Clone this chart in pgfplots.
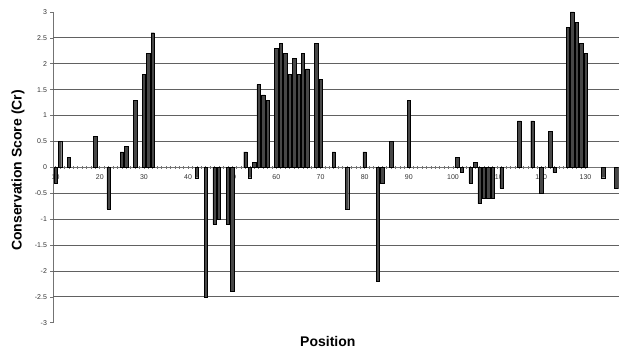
\documentclass[border=0pt]{standalone}
\usepackage{fontspec}
\setmainfont{Liberation Sans}
\usepackage{pgfplots}
\pgfplotsset{compat=1.18}
\begin{document}
\begin{tikzpicture}
\begin{axis}[
  scale only axis, width=566pt, height=311pt,
  xmin=9.4, xmax=137.5, ymin=-3, ymax=3,
  axis x line*=middle, axis y line*=left,
  axis line style={black!55, line width=0.6pt},
  /pgf/number format/assume math mode=true,
  xtick={10,20,...,130},
  minor x tick num=9,
  x tick style={black!55, line width=0.6pt},
  xtick align=center,
  major tick length=2.5pt, minor tick length=2.5pt,
  ytick={-3,-2.5,...,3},
  yticklabels={-3,-2.5,-2,-1.5,-1,-0.5,0,0.5,1,1.5,2,2.5,3},
  y tick style={black!55, line width=0.6pt},
  ytick align=outside,
  extra y ticks={-2.5,-2,-1.5,-1,-0.5,0.5,1,1.5,2,2.5},
  extra y tick labels={},
  extra y tick style={grid=major, major tick length=0pt},
  major grid style={black!62, line width=0.9pt},
  tick label style={font=\fontsize{7}{8}\selectfont, text=black!80},
  xticklabel style={yshift=-2pt},
  ylabel={Conservation Score (Cr)},
  xlabel={Position},
  label style={font=\fontsize{14}{16}\selectfont\bfseries},
  ylabel style={at={(axis description cs:-0.062,0.49)}, anchor=center, rotate=0},
  xlabel style={at={(axis description cs:0.486,0)}, anchor=north, yshift=-10pt},
  clip=true,
]
\addplot[ybar, bar width=0.78, fill=black!72, draw=black, line width=0.4pt] coordinates {
(10,-0.3) (11,0.5) (13,0.2) (19,0.6) (22,-0.8) (25,0.3) (26,0.4) (28,1.3)
(30,1.8) (31,2.2) (32,2.6) (42,-0.2) (44,-2.5) (46,-1.1) (47,-1.0) (49,-1.1)
(50,-2.4) (53,0.3) (54,-0.2) (55,0.1) (56,1.6) (57,1.4) (58,1.3) (60,2.3)
(61,2.4) (62,2.2) (63,1.8) (64,2.1) (65,1.8) (66,2.2) (67,1.9) (69,2.4)
(70,1.7) (73,0.3) (76,-0.8) (80,0.3) (83,-2.2) (84,-0.3) (86,0.5) (90,1.3)
(101,0.2) (102,-0.1) (104,-0.3) (105,0.1) (106,-0.7) (107,-0.6) (108,-0.6) (109,-0.6)
(111,-0.4) (115,0.9) (118,0.9) (120,-0.5) (122,0.7) (123,-0.1) (126,2.7) (127,3.0)
(128,2.8) (129,2.4) (130,2.2) (134,-0.2) (137,-0.4)
};
\end{axis}
\path (current axis.south west) +(-53pt,-30pt) coordinate (bl);
\path (current axis.north east) +(0pt,12pt) coordinate (tr);
\path (bl) rectangle (tr);
\end{tikzpicture}
\end{document}
